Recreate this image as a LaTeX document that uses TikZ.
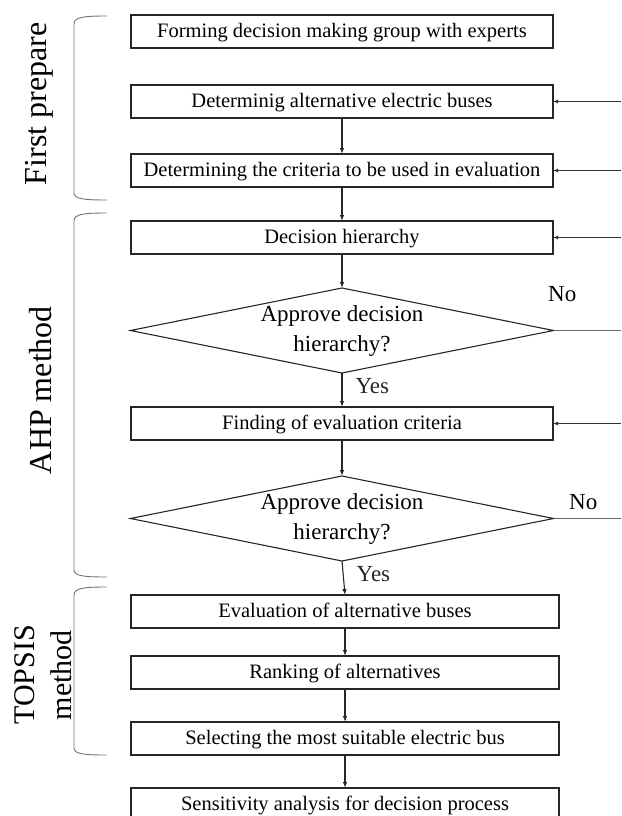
\documentclass[tikz,border=0pt]{standalone}
\usepackage{fontspec}
\setmainfont{Liberation Serif}
\usetikzlibrary{shapes.geometric,arrows.meta,positioning}

\begin{document}
\begin{tikzpicture}[
    x=1pt, y=-1pt,
    box/.style={rectangle, draw=black!85, line width=1.2pt, minimum height=33pt, minimum width=422pt, inner sep=0pt, outer sep=0pt, text height=15pt, text depth=2.5pt, align=center, font=\fontsize{20.5}{24}\selectfont},
    widebox/.style={box, minimum width=428pt},
    decision/.style={diamond, draw=black!85, line width=1.1pt, minimum width=423pt, minimum height=85pt, aspect=5, inner xsep=0pt, inner ysep=-12pt, outer sep=0pt, align=center, font=\fontsize{23}{30}\selectfont},
    arrow/.style={-{Latex[length=6pt,width=4.5pt]}, line width=1.1pt, black!85},
    feed/.style={-{Latex[length=5pt,width=4pt]}, line width=0.8pt, black!80},
    feedthick/.style={feed, line width=1.2pt},
    noline/.style={line width=0.7pt, black!60},
    answer/.style={font=\fontsize{23}{26}\selectfont, inner sep=0pt},
    phase/.style={rotate=90, align=center, font=\fontsize{32}{37}\selectfont, inner sep=0pt},
    brace/.style={line width=0.9pt, black!55}
]
\useasboundingbox (0,0) rectangle (621,816);

% main column
\node[box] (form) at (342,31.5) {Forming decision making group with experts};
\node[box, below=37pt of form] (alt) {Determinig alternative electric buses};
\node[box, below=36pt of alt] (crit) {Determining the criteria to be used in evaluation};
\node[box, below=34pt of crit] (hier) {Decision hierarchy};
\node[decision, below=34pt of hier] (app1) {Approve decision\\hierarchy?};
\node[box, below=34pt of app1] (find) {Finding of evaluation criteria};
\node[decision, below=36pt of find] (app2) {Approve decision\\hierarchy?};
\node[widebox, below=34pt of app2, xshift=3pt] (eval) {Evaluation of alternative buses};
\node[widebox, below=28pt of eval] (rank) {Ranking of alternatives};
\node[widebox, below=33pt of rank] (select) {Selecting the most suitable electric bus};
\node[widebox, below=33pt of select] (sens) {Sensitivity analysis for decision process};

\coordinate (rim) at (621,0);

% phase labels
\node[phase] (first) at (39,104) {First prepare};
\node[phase] (ahp) at (41,390) {AHP method};
\node[phase, font=\fontsize{30}{37}\selectfont] (topsis) at (43,675) {TOPSIS\\method};

\draw[brace] (107,16) .. controls (84,16) and (74,17) .. (74,24) -- (74,193) .. controls (74,199) and (84,200) .. (107,200);
\draw[brace] (107,213) .. controls (84,213) and (74,214) .. (74,221) -- (74,570) .. controls (74,576) and (84,577) .. (107,577);
\draw[brace] (107,587) .. controls (84,587) and (74,588) .. (74,595) -- (74,748) .. controls (74,754) and (84,755) .. (107,755);

% flow
\draw[arrow] (alt) -- (crit);
\draw[arrow] (crit) -- (hier);
\draw[arrow] (hier) -- (app1);
\draw[arrow] (app1) -- node[answer, right=13pt, pos=0.38] {Yes} (find);
\draw[arrow] (find) -- (app2);
\draw[arrow] (app2.south) -- node[answer, right=13pt, pos=0.39] {Yes} (eval.north);
\draw[arrow] (eval) -- (rank);
\draw[arrow] (rank) -- (select);
\draw[arrow] (select) -- (sens);

% feedback
\draw[noline] (app1.east) -- node[answer, above=28pt, pos=0.13, black] {No} (app1.east -| rim);
\draw[noline] (app2.east) -- node[answer, above=8pt, pos=0.44, black] {No} (app2.east -| rim);
\draw[feed] (alt.east -| rim) -- (alt.east);
\draw[feedthick] (crit.east -| rim) -- (crit.east);
\draw[feedthick] (hier.east -| rim) -- (hier.east);
\draw[feed] (find.east -| rim) -- (find.east);

\end{tikzpicture}
\end{document}
